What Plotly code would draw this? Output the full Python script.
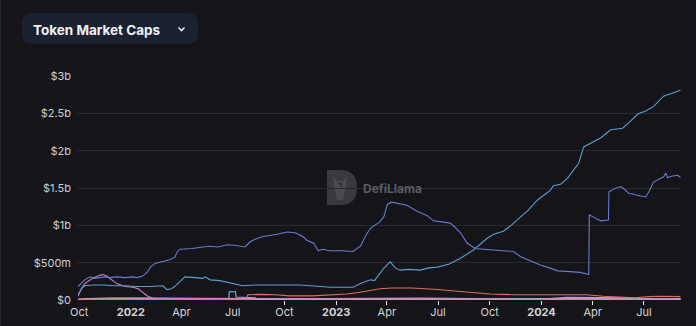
import plotly.graph_objects as go

# Figure size and plot-area margins (pixels)
W, H = 696, 326
ML, MR, MT, MB = 78, 15, 76, 26
PW, PH = W - ML - MR, H - MT - MB

# ---- Token market caps, in $ billions ----
dates_a = ["2021-09-29", "2021-10-05", "2021-10-11", "2021-10-20", "2021-10-28", "2021-11-07",
           "2021-11-16", "2021-11-25", "2021-12-07", "2021-12-21", "2022-01-05", "2022-01-12",
           "2022-01-22", "2022-01-31", "2022-02-06", "2022-02-13", "2022-02-27", "2022-03-11",
           "2022-03-20", "2022-03-24", "2022-03-29", "2022-04-10", "2022-04-20", "2022-05-09",
           "2022-05-22", "2022-06-05", "2022-06-21", "2022-07-08", "2022-07-23", "2022-08-01",
           "2022-08-12", "2022-08-24", "2022-09-05", "2022-09-18", "2022-10-06", "2022-10-20",
           "2022-11-03", "2022-11-10", "2022-11-22", "2022-11-30", "2022-12-08", "2022-12-21",
           "2023-01-10", "2023-01-31", "2023-02-13", "2023-02-24", "2023-03-03", "2023-03-12",
           "2023-03-20", "2023-03-27", "2023-04-02", "2023-04-09", "2023-04-16", "2023-04-25",
           "2023-05-07", "2023-05-22", "2023-06-05", "2023-06-12", "2023-06-23", "2023-07-05",
           "2023-07-23", "2023-08-01", "2023-08-10", "2023-08-22", "2023-09-05", "2023-09-20",
           "2023-10-08", "2023-10-25", "2023-11-12", "2023-11-25", "2023-12-10", "2023-12-30",
           "2024-01-15", "2024-01-30", "2024-02-20", "2024-03-10", "2024-03-25", "2024-03-26",
           "2024-04-05", "2024-04-15", "2024-04-29", "2024-04-30", "2024-05-10", "2024-05-21",
           "2024-05-28", "2024-06-04", "2024-06-12", "2024-06-20", "2024-07-04", "2024-07-10",
           "2024-07-18", "2024-07-28", "2024-08-05", "2024-08-09", "2024-08-12", "2024-08-21",
           "2024-08-30", "2024-09-04"]
cap_a = [0.18, 0.22, 0.27, 0.31, 0.29, 0.30,
         0.31, 0.30, 0.31, 0.30, 0.31, 0.30,
         0.32, 0.38, 0.45, 0.49, 0.52, 0.54,
         0.57, 0.64, 0.68, 0.68, 0.69, 0.71,
         0.72, 0.71, 0.74, 0.73, 0.71, 0.78,
         0.82, 0.85, 0.86, 0.88, 0.91, 0.90,
         0.85, 0.80, 0.76, 0.66, 0.68, 0.66,
         0.66, 0.65, 0.72, 0.88, 0.96, 1.01,
         1.05, 1.12, 1.28, 1.31, 1.30, 1.29,
         1.27, 1.20, 1.16, 1.13, 1.06, 1.05,
         1.03, 0.97, 0.90, 0.76, 0.69, 0.68,
         0.67, 0.66, 0.65, 0.58, 0.53, 0.47,
         0.43, 0.39, 0.38, 0.37, 0.34, 1.14,
         1.10, 1.06, 1.07, 1.45, 1.49, 1.52,
         1.48, 1.43, 1.42, 1.40, 1.38, 1.45,
         1.58, 1.62, 1.65, 1.70, 1.64, 1.66,
         1.67, 1.64]

dates_b = ["2021-09-29", "2021-10-05", "2021-10-11", "2021-10-25", "2021-11-12", "2021-12-01",
           "2021-12-21", "2022-01-12", "2022-02-05", "2022-02-27", "2022-03-06", "2022-03-14",
           "2022-03-20", "2022-03-30", "2022-04-07", "2022-04-25", "2022-05-09", "2022-05-13",
           "2022-05-18", "2022-05-22", "2022-06-08", "2022-06-21", "2022-07-19", "2022-08-10",
           "2022-09-05", "2022-10-06", "2022-10-28", "2022-11-16", "2022-12-21", "2023-01-31",
           "2023-02-13", "2023-03-03", "2023-03-10", "2023-03-26", "2023-04-07", "2023-04-16",
           "2023-04-25", "2023-05-10", "2023-05-31", "2023-06-15", "2023-06-30", "2023-07-20",
           "2023-08-10", "2023-09-02", "2023-09-27", "2023-10-08", "2023-10-25", "2023-11-08",
           "2023-11-19", "2023-12-08", "2023-12-25", "2024-01-17", "2024-01-22", "2024-02-04",
           "2024-02-16", "2024-02-27", "2024-03-07", "2024-03-16", "2024-03-28", "2024-04-15",
           "2024-05-03", "2024-05-24", "2024-06-05", "2024-06-20", "2024-07-04", "2024-07-18",
           "2024-08-05", "2024-08-20", "2024-09-04"]
cap_b = [0.07, 0.15, 0.19, 0.20, 0.20, 0.19,
         0.19, 0.18, 0.18, 0.19, 0.14, 0.15,
         0.18, 0.26, 0.31, 0.30, 0.29, 0.31,
         0.29, 0.27, 0.26, 0.24, 0.19, 0.20,
         0.20, 0.21, 0.20, 0.19, 0.17, 0.17,
         0.22, 0.27, 0.26, 0.42, 0.51, 0.43,
         0.40, 0.41, 0.40, 0.43, 0.44, 0.48,
         0.56, 0.67, 0.83, 0.88, 0.92, 1.00,
         1.07, 1.20, 1.34, 1.47, 1.53, 1.55,
         1.63, 1.74, 1.83, 2.05, 2.10, 2.17,
         2.28, 2.30, 2.38, 2.49, 2.53, 2.59,
         2.73, 2.77, 2.81]

dates_c = ["2021-09-29", "2021-10-05", "2021-10-11", "2021-10-20", "2021-10-25", "2021-11-07",
           "2021-11-12", "2021-11-19", "2021-11-28", "2021-12-07", "2021-12-21", "2022-01-05",
           "2022-01-14", "2022-01-21", "2022-01-31", "2022-02-10", "2022-03-15", "2022-06-01",
           "2022-09-01", "2023-03-01", "2023-06-01", "2023-09-01", "2024-01-01", "2024-05-01",
           "2024-09-04"]
cap_c = [0.05, 0.15, 0.22, 0.27, 0.29, 0.33,
         0.34, 0.32, 0.27, 0.22, 0.18, 0.17,
         0.15, 0.11, 0.05, 0.02, 0.02, 0.015,
         0.01, 0.012, 0.02, 0.012, 0.015, 0.01,
         0.01]

dates_d = ["2021-09-29", "2022-03-01", "2022-07-25", "2022-07-28", "2022-08-20", "2022-09-15",
           "2022-10-10", "2022-11-20", "2022-12-20", "2023-01-20", "2023-02-10", "2023-02-28",
           "2023-03-20", "2023-04-10", "2023-05-15", "2023-06-30", "2023-08-01", "2023-09-01",
           "2023-10-01", "2023-11-15", "2024-01-01", "2024-02-15", "2024-03-20", "2024-04-20",
           "2024-05-20", "2024-06-15", "2024-07-10", "2024-08-01", "2024-09-04"]
cap_d = [0.004, 0.006, 0.01, 0.07, 0.075, 0.07,
         0.055, 0.055, 0.065, 0.08, 0.10, 0.12,
         0.15, 0.16, 0.16, 0.14, 0.12, 0.10,
         0.08, 0.07, 0.07, 0.075, 0.07, 0.05,
         0.035, 0.03, 0.045, 0.05, 0.045]

dates_e = ["2021-09-29", "2022-06-24", "2022-06-25", "2022-07-06", "2022-07-07", "2022-08-10",
           "2022-08-15", "2023-06-01", "2023-10-01", "2024-01-15", "2024-02-15", "2024-06-10",
           "2024-06-20", "2024-09-04"]
cap_e = [0.01, 0.01, 0.11, 0.11, 0.04, 0.03,
         0.01, 0.01, 0.015, 0.02, 0.035, 0.03,
         0.01, 0.012]

dates_f = ["2021-09-29", "2021-10-20", "2021-12-01", "2022-02-01", "2022-04-01", "2022-06-01",
           "2022-08-01", "2022-10-01", "2023-01-01", "2023-04-01", "2023-06-01", "2023-09-01",
           "2023-12-01", "2024-03-01", "2024-06-01", "2024-09-04"]
cap_f = [0.01, 0.02, 0.025, 0.02, 0.025, 0.02,
         0.015, 0.015, 0.02, 0.03, 0.025, 0.02,
         0.02, 0.015, 0.015, 0.02]

dates_g = ["2021-09-29", "2021-10-15", "2022-01-01", "2022-04-01", "2022-06-01", "2022-09-01",
           "2023-01-01", "2023-07-01", "2024-01-01", "2024-09-04"]
cap_g = [0.005, 0.015, 0.02, 0.02, 0.015, 0.01,
         0.01, 0.009, 0.008, 0.008]

dates_h = ["2021-09-29", "2022-06-01", "2023-01-01", "2023-06-01", "2024-01-01", "2024-09-04"]
cap_h = [0.003, 0.004, 0.006, 0.008, 0.005, 0.004]

dates_i = ["2021-09-29", "2022-03-01", "2022-09-01", "2023-03-01", "2023-09-01", "2024-03-01",
           "2024-09-04"]
cap_i = [0.006, 0.01, 0.008, 0.012, 0.01, 0.014, 0.01]

series = [
    ("Token H", dates_h, cap_h, "#d9c56b", 1.2),
    ("Token I", dates_i, cap_i, "#8d6fd6", 1.2),
    ("Token G", dates_g, cap_g, "#e5874d", 1.8),
    ("Token F", dates_f, cap_f, "#d98ab5", 1.2),
    ("Token E", dates_e, cap_e, "#79bde4", 1.1),
    ("Token D", dates_d, cap_d, "#de6f5c", 1.1),
    ("Token C", dates_c, cap_c, "#d77fc6", 1.1),
    ("Token B", dates_b, cap_b, "#5c9fc9", 1.1),
    ("Token A", dates_a, cap_a, "#6a7bd1", 1.1),
]

y_ticks = [0, 0.5, 1, 1.5, 2, 2.5, 3]
y_labels = ["$0", "$500m", "$1b", "$1.5b", "$2b", "$2.5b", "$3b"]
x_ticks = ["2021-10-01", "2022-01-01", "2022-04-01", "2022-07-01", "2022-10-01", "2023-01-01",
           "2023-04-01", "2023-07-01", "2023-10-01", "2024-01-01", "2024-04-01", "2024-07-01"]
x_labels = ["Oct", "<b>2022</b>", "Apr", "Jul", "Oct", "<b>2023</b>",
            "Apr", "Jul", "Oct", "<b>2024</b>", "Apr", "Jul"]
x_marked = x_ticks[4:]
x_range = ["2021-09-29", "2024-09-05"]

BG = "#141419"

fig = go.Figure()
for name, d, v, color, width in series:
    fig.add_trace(go.Scatter(x=d, y=v, name=name, mode="lines",
                             line=dict(color=color, width=width), hoverinfo="x+y+name"))

# Invisible trace that carries the tick-mark axis
fig.add_trace(go.Scatter(x=x_range, y=[0, 0], xaxis="x2", mode="lines",
                         line=dict(width=0), opacity=0, hoverinfo="skip", showlegend=False))


def px(x):
    return (x - ML) / PW


def py(y):
    return (H - MB - y) / PH


shapes = []
# Title pill
x0, x1, y0, y1, r = 22, 198, 13, 44, 10
pill = (f"M {px(x0 + r)} {py(y0)} L {px(x1 - r)} {py(y0)} "
        f"Q {px(x1)} {py(y0)} {px(x1)} {py(y0 + r)} L {px(x1)} {py(y1 - r)} "
        f"Q {px(x1)} {py(y1)} {px(x1 - r)} {py(y1)} L {px(x0 + r)} {py(y1)} "
        f"Q {px(x0)} {py(y1)} {px(x0)} {py(y1 - r)} L {px(x0)} {py(y0 + r)} "
        f"Q {px(x0)} {py(y0)} {px(x0 + r)} {py(y0)} Z")
shapes.append(dict(type="path", xref="paper", yref="paper", path=pill,
                   fillcolor="#1a2131", line=dict(width=0), layer="below"))
# Dropdown chevron
shapes.append(dict(type="path", xref="paper", yref="paper",
                   path=f"M {px(178.5)} {py(27.5)} L {px(181.5)} {py(30.5)} L {px(184.5)} {py(27.5)}",
                   line=dict(color="#e8e8ec", width=1.6)))
# Watermark logo
lx0, lx1, ly0, ly1 = 327, 357, 170, 205
logo = (f"M {px(lx0)} {py(ly0)} L {px(lx0 + 13)} {py(ly0)} "
        f"Q {px(lx1)} {py(ly0)} {px(lx1)} {py((ly0 + ly1) / 2)} "
        f"Q {px(lx1)} {py(ly1)} {px(lx0 + 13)} {py(ly1)} L {px(lx0)} {py(ly1)} Z")
shapes.append(dict(type="path", xref="paper", yref="paper", path=logo,
                   fillcolor="#39393e", line=dict(width=0), layer="below"))
head = (f"M {px(333)} {py(176)} L {px(337)} {py(181)} L {px(343)} {py(181)} L {px(347)} {py(176)} "
        f"L {px(346)} {py(186)} L {px(343)} {py(200)} L {px(337)} {py(200)} L {px(334)} {py(186)} Z")
shapes.append(dict(type="path", xref="paper", yref="paper", path=head,
                   fillcolor="#4a4a50", line=dict(width=0), layer="below"))
shapes.append(dict(type="path", xref="paper", yref="paper",
                   path=f"M {px(339)} {py(183)} L {px(342)} {py(183)} L {px(341)} {py(187)} Z",
                   fillcolor="#26262a", line=dict(width=0), layer="below"))
# Left frame edge
shapes.append(dict(type="line", xref="paper", yref="paper", x0=px(0.5), x1=px(0.5),
                   y0=py(0), y1=py(H), line=dict(color="#26262c", width=1), layer="below"))

annotations = [
    dict(text="<b>Token Market Caps</b>", xref="paper", yref="paper", x=px(31), y=py(30),
         xanchor="left", yanchor="middle", showarrow=False,
         font=dict(family="Inter", size=13.5, color="#f2f2f4")),
    dict(text="<b>DefiLlama</b>", xref="paper", yref="paper", x=px(361), y=py(188),
         xanchor="left", yanchor="middle", showarrow=False,
         font=dict(family="Inter", size=12, color="#5c5c62")),
]

fig.update_layout(
    width=W, height=H,
    margin=dict(l=ML, r=MR, t=MT, b=MB, autoexpand=False),
    paper_bgcolor=BG, plot_bgcolor=BG,
    showlegend=False,
    font=dict(family="Inter", size=11, color="#cfcfd3"),
    xaxis=dict(type="date", range=x_range, tickvals=x_ticks, ticktext=x_labels,
               showgrid=False, zeroline=False, showline=False, ticks="", automargin=False,
               ticklabelstandoff=4, tickfont=dict(size=11, color="#d4d4d8")),
    xaxis2=dict(type="date", range=x_range, overlaying="x", anchor="y", side="bottom",
                tickvals=x_marked, showticklabels=False, ticks="outside", ticklen=4,
                tickwidth=1, tickcolor="#e6e6e6", showgrid=False, zeroline=False,
                showline=False, automargin=False),
    yaxis=dict(range=[0, 3], tickvals=y_ticks, ticktext=y_labels, showgrid=True,
               gridcolor="#29292f", gridwidth=1, zeroline=False, showline=False, ticks="",
               automargin=False, ticklabelstandoff=6, tickfont=dict(size=11, color="#cfcfd3")),
    shapes=shapes,
    annotations=annotations,
)

fig.write_html("out.html")
